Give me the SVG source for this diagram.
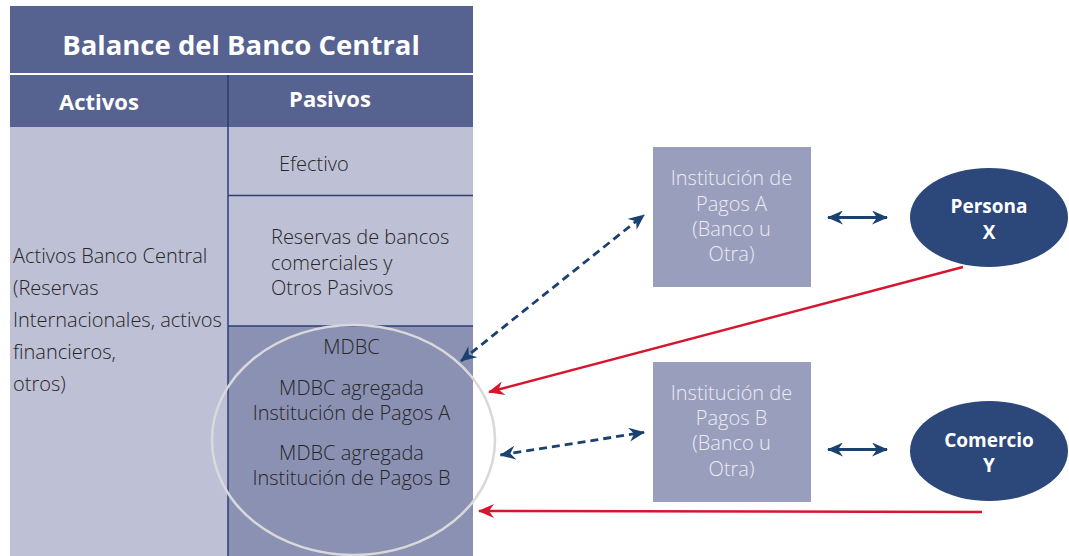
<svg xmlns="http://www.w3.org/2000/svg" width="1069" height="556" viewBox="0 0 1069 556">
<style>
text{font-family:"Open Sans","Noto Sans","Liberation Sans",sans-serif}
.hd{fill:#FFFFFF;font-weight:700}
.bd{fill:#262626;font-size:20px;font-weight:300}
.bx{fill:#EBECF3;font-size:20px;font-weight:300;text-anchor:middle}
.el{fill:#FFFFFF;font-size:19px;font-weight:700;text-anchor:middle}
.div{stroke:#2B3F72;stroke-width:1.5}
.blue{stroke:#1B4171;stroke-width:2.8;fill:none}
.dash{stroke-dasharray:8 5}
.red{stroke:#D6162E;stroke-width:2.5;fill:none}
</style>
<defs>
<marker id="ab" viewBox="0 0 16 14" refX="15" refY="7" markerWidth="16" markerHeight="14" markerUnits="userSpaceOnUse" orient="auto-start-reverse"><path d="M0,0 L16,7 L0,14 L5,7 Z" fill="#1B4171"/></marker>
<marker id="ar" viewBox="0 0 16 14" refX="15" refY="7" markerWidth="16" markerHeight="14" markerUnits="userSpaceOnUse" orient="auto-start-reverse"><path d="M0,0 L16,7 L0,14 L5,7 Z" fill="#D6162E"/></marker>
</defs>
<rect width="1069" height="556" fill="#FFFFFF"/>
<g id="balance">
<rect x="10" y="6" width="463" height="67" fill="#566290"/>
<rect x="10" y="75" width="463" height="52" fill="#566290"/>
<rect x="10" y="127" width="218" height="429" fill="#BEC0D6"/>
<rect x="228" y="127" width="245" height="199" fill="#BEC0D6"/>
<rect x="228" y="326" width="245" height="230" fill="#8B91B3"/>
<line class="div" x1="228" y1="75" x2="228" y2="556"/>
<line class="div" x1="228" y1="195.5" x2="473" y2="195.5"/>
<line class="div" x1="228" y1="326" x2="473" y2="326"/>
<text class="hd" x="241" y="55" font-size="27.5" text-anchor="middle">Balance del Banco Central</text>
<text class="hd" x="99" y="110" font-size="22" text-anchor="middle">Activos</text>
<text class="hd" x="330" y="107" font-size="22" text-anchor="middle">Pasivos</text>
<text class="bd" x="279" y="171">Efectivo</text>
<text class="bd"><tspan x="271" y="244">Reservas de bancos</tspan><tspan x="271" y="270">comerciales y</tspan><tspan x="271" y="295">Otros Pasivos</tspan></text>
<text class="bd"><tspan x="13" y="263">Activos Banco Central</tspan><tspan x="13" y="295">(Reservas</tspan><tspan x="13" y="327">Internacionales, activos</tspan><tspan x="13" y="359">financieros,</tspan><tspan x="13" y="391">otros)</tspan></text>
<text class="bd" x="351.5" y="354" text-anchor="middle">MDBC</text>
<text class="bd" text-anchor="middle"><tspan x="351.5" y="395">MDBC agregada</tspan><tspan x="351.5" y="420">Institución de Pagos A</tspan></text>
<text class="bd" text-anchor="middle"><tspan x="351.5" y="460">MDBC agregada</tspan><tspan x="351.5" y="485">Institución de Pagos B</tspan></text>
</g>
<g id="mdbc-circle">
<ellipse cx="353.5" cy="440" rx="141.5" ry="115" fill="none" stroke="#D9D9DB" stroke-width="2.5"/>
</g>
<g id="inst-a">
<rect x="653" y="147" width="158" height="140" fill="#9A9EBD"/>
<text class="bx"><tspan x="731.5" y="185">Institución de</tspan><tspan x="731.5" y="211">Pagos A</tspan><tspan x="731.5" y="236">(Banco u</tspan><tspan x="731.5" y="261">Otra)</tspan></text>
</g>
<g id="inst-b">
<rect x="653" y="362" width="158" height="140" fill="#9A9EBD"/>
<text class="bx"><tspan x="731.5" y="400">Institución de</tspan><tspan x="731.5" y="425">Pagos B</tspan><tspan x="731.5" y="450">(Banco u</tspan><tspan x="731.5" y="476">Otra)</tspan></text>
</g>
<g id="persona-x">
<ellipse cx="989" cy="217.5" rx="79" ry="49.5" fill="#2C4779"/>
<text class="el"><tspan x="989" y="213">Persona</tspan><tspan x="989" y="239">X</tspan></text>
</g>
<g id="comercio-y">
<ellipse cx="989" cy="451" rx="79" ry="50" fill="#2C4779"/>
<text class="el"><tspan x="989" y="447">Comercio</tspan><tspan x="989" y="472">Y</tspan></text>
</g>
<g id="connectors">
<line class="blue dash" x1="461" y1="361" x2="644" y2="215" marker-start="url(#ab)" marker-end="url(#ab)"/>
<line class="blue" x1="828" y1="217.5" x2="887" y2="217.5" marker-start="url(#ab)" marker-end="url(#ab)"/>
<line class="red" x1="963" y1="267" x2="489" y2="392" marker-end="url(#ar)"/>
<line class="blue dash" x1="500.5" y1="455" x2="644" y2="432.3" marker-start="url(#ab)" marker-end="url(#ab)"/>
<line class="blue" x1="828" y1="449.5" x2="887" y2="449.5" marker-start="url(#ab)" marker-end="url(#ab)"/>
<line class="red" x1="982" y1="512" x2="479" y2="511" marker-end="url(#ar)"/>
</g>
</svg>
